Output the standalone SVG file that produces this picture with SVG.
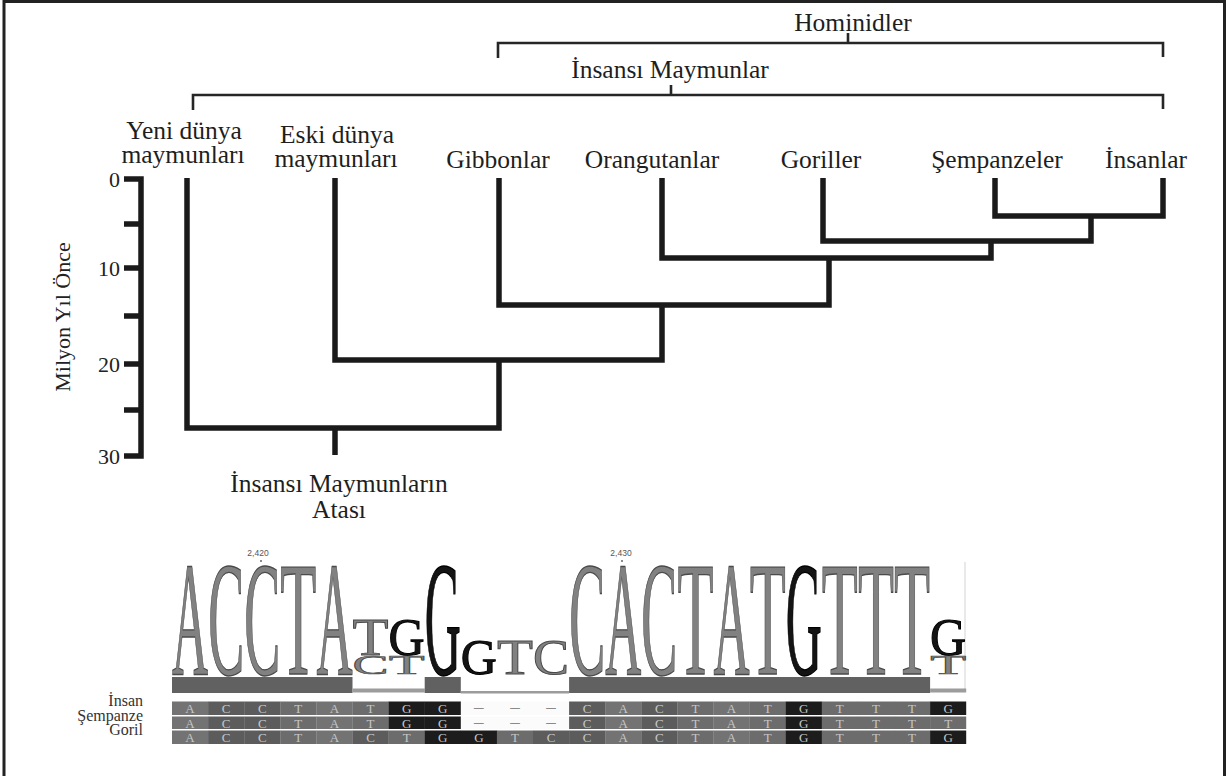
<svg xmlns="http://www.w3.org/2000/svg" width="1226" height="776" viewBox="0 0 1226 776">
<style>
.lbl{font-family:"Liberation Serif","Times New Roman",serif;font-size:25.5px;fill:#1e1e1e;text-anchor:middle}
.ax{font-family:"Liberation Serif","Times New Roman",serif;font-size:22px;fill:#222;text-anchor:end}
.tree{fill:none;stroke:#1a1a1a;stroke-width:5.5;stroke-linejoin:miter;stroke-linecap:butt}
.brk{fill:none;stroke:#262626;stroke-width:2.6;stroke-linecap:butt}
.frame{fill:none;stroke:#222;stroke-width:3}
.lg{font-family:"Liberation Serif","Times New Roman",serif;font-size:100px;text-anchor:middle;fill:#818181;stroke:#4a4a4a;stroke-width:1;vector-effect:non-scaling-stroke}
.lg.k{fill:#141414;stroke:#000}
.bar{fill:#616161}
.thin{fill:#9c9c9c}
.cA{fill:#737373}.cC{fill:#5c5c5c}.cT{fill:#6c6c6c}.cG{fill:#1c1c1c}.cN{fill:#fbfbfb}
.al{font-family:"Liberation Serif","Times New Roman",serif;font-size:13px;fill:#c6c6c6;text-anchor:middle}
.dash{font-size:19px;fill:#8a8a8a}
.rl{font-family:"Liberation Serif","Times New Roman",serif;font-size:16px;fill:#333;text-anchor:end}
.num{font-family:"Liberation Sans",Arial,sans-serif;font-size:8.5px;fill:#555;text-anchor:middle}
</style>
<rect x="0" y="0" width="1226" height="776" fill="#ffffff"/>
<path class="frame" d="M4,776 V1.5 H1224.5 V776"/>

<g id="clade-hominidler">
<path class="brk" d="M498,58 V43 H1163 V57 M848,33 V43"/>
<text class="lbl" x="853" y="31">Hominidler</text>
</g>
<g id="clade-insansi">
<path class="brk" d="M193,110 V95 H1163 V109 M671,85 V95"/>
<text class="lbl" x="670" y="78">İnsansı Maymunlar</text>
</g>

<g id="taxon-yeni"><text class="lbl" x="184" y="139">Yeni dünya</text><text class="lbl" x="183" y="163">maymunları</text></g>
<g id="taxon-eski"><text class="lbl" x="337" y="143">Eski dünya</text><text class="lbl" x="336" y="167">maymunları</text></g>
<g id="taxon-gibbon"><text class="lbl" x="498" y="168">Gibbonlar</text></g>
<g id="taxon-orangutan"><text class="lbl" x="652" y="168">Orangutanlar</text></g>
<g id="taxon-goril"><text class="lbl" x="821" y="168">Goriller</text></g>
<g id="taxon-sempanze"><text class="lbl" x="997" y="168">Şempanzeler</text></g>
<g id="taxon-insan"><text class="lbl" x="1146" y="168">İnsanlar</text></g>
<g id="root-ancestor"><text class="lbl" x="339" y="492">İnsansı Maymunların</text><text class="lbl" x="339" y="518">Atası</text></g>

<g id="axis">
<path class="tree" d="M124,179 H141 V456 H124 M124,224 H141 M124,268 H141 M124,316 H141 M124,364 H141 M124,410 H141"/>
<text class="ax" x="120" y="187">0</text>
<text class="ax" x="120" y="276">10</text>
<text class="ax" x="120" y="372">20</text>
<text class="ax" x="120" y="464">30</text>
<text class="ax" style="text-anchor:middle" transform="translate(70,317) rotate(-90)">Milyon Yıl Önce</text>
</g>

<g id="connectors">
<path class="tree" d="M995,178 V216 H1163 V178"/>
<path class="tree" d="M823,178 V241 H1091 V216"/>
<path class="tree" d="M662,178 V258 H991 V241"/>
<path class="tree" d="M499,178 V305 H829 V258"/>
<path class="tree" d="M335,178 V360 H662 V305"/>
<path class="tree" d="M187,178 V428 H499 V360"/>
<path class="tree" d="M335,428 V455"/>
</g>

<g id="sequence-logo">
<text class="num" x="258" y="556">2,420</text>
<circle cx="261" cy="561" r="1" fill="#666"/>
<text class="num" x="621" y="556">2,430</text>
<circle cx="622" cy="561" r="1" fill="#666"/>
<line x1="965" y1="562" x2="965" y2="690" stroke="#e2e2e2" stroke-width="1.5"/>
<text class="lg" transform="translate(190.05,674) scale(0.5,1.631)">A</text>
<text class="lg" transform="translate(226.15,674) scale(0.54,1.631)">C</text>
<text class="lg" transform="translate(262.25,674) scale(0.54,1.631)">C</text>
<text class="lg" transform="translate(298.35,674) scale(0.59,1.631)">T</text>
<text class="lg" transform="translate(334.45,674) scale(0.5,1.631)">A</text>
<text class="lg" transform="translate(370.55,655) scale(0.59,0.529)">T</text>
<text class="lg" transform="translate(370.55,674) scale(0.54,0.272)">C</text>
<text class="lg k" transform="translate(406.65,655) scale(0.5,0.529)">G</text>
<text class="lg" transform="translate(406.65,674) scale(0.59,0.272)">T</text>
<text class="lg k" transform="translate(442.75,674) scale(0.5,1.631)">G</text>
<text class="lg k" transform="translate(478.85,674) scale(0.5,0.514)">G</text>
<text class="lg" transform="translate(514.95,674) scale(0.59,0.514)">T</text>
<text class="lg" transform="translate(551.05,674) scale(0.54,0.514)">C</text>
<text class="lg" transform="translate(587.15,674) scale(0.54,1.631)">C</text>
<text class="lg" transform="translate(623.25,674) scale(0.5,1.631)">A</text>
<text class="lg" transform="translate(659.35,674) scale(0.54,1.631)">C</text>
<text class="lg" transform="translate(695.45,674) scale(0.59,1.631)">T</text>
<text class="lg" transform="translate(731.55,674) scale(0.5,1.631)">A</text>
<text class="lg" transform="translate(767.65,674) scale(0.59,1.631)">T</text>
<text class="lg k" transform="translate(803.75,674) scale(0.5,1.631)">G</text>
<text class="lg" transform="translate(839.85,674) scale(0.59,1.631)">T</text>
<text class="lg" transform="translate(875.95,674) scale(0.59,1.631)">T</text>
<text class="lg" transform="translate(912.05,674) scale(0.59,1.631)">T</text>
<text class="lg k" transform="translate(948.15,655) scale(0.5,0.529)">G</text>
<text class="lg" transform="translate(948.15,674) scale(0.59,0.272)">T</text>
<rect class="bar" x="172" y="677" width="180.5" height="16"/>
<rect class="thin" x="352.5" y="688.5" width="72.2" height="4"/>
<rect class="bar" x="424.7" y="677" width="36.1" height="16"/>
<rect class="thin" x="460.8" y="691" width="108.3" height="2.5"/>
<rect class="bar" x="569.1" y="677" width="361" height="16"/>
<rect class="thin" x="930.1" y="688.5" width="36.1" height="4"/>
</g>

<g id="row-labels">
<text class="rl" x="143" y="706">İnsan</text>
<text class="rl" x="143" y="720.5">Şempanze</text>
<text class="rl" x="143" y="735">Goril</text>
</g>

<g id="alignment">
<rect class="cA" x="172" y="701.5" width="36.3" height="13.5"/>
<rect class="cC" x="208.1" y="701.5" width="36.3" height="13.5"/>
<rect class="cC" x="244.2" y="701.5" width="36.3" height="13.5"/>
<rect class="cT" x="280.3" y="701.5" width="36.3" height="13.5"/>
<rect class="cA" x="316.4" y="701.5" width="36.3" height="13.5"/>
<rect class="cT" x="352.5" y="701.5" width="36.3" height="13.5"/>
<rect class="cG" x="388.6" y="701.5" width="36.3" height="13.5"/>
<rect class="cG" x="424.7" y="701.5" width="36.3" height="13.5"/>
<rect class="cN" x="460.8" y="701.5" width="36.3" height="13.5"/>
<rect class="cN" x="496.9" y="701.5" width="36.3" height="13.5"/>
<rect class="cN" x="533" y="701.5" width="36.3" height="13.5"/>
<rect class="cC" x="569.1" y="701.5" width="36.3" height="13.5"/>
<rect class="cA" x="605.2" y="701.5" width="36.3" height="13.5"/>
<rect class="cC" x="641.3" y="701.5" width="36.3" height="13.5"/>
<rect class="cT" x="677.4" y="701.5" width="36.3" height="13.5"/>
<rect class="cA" x="713.5" y="701.5" width="36.3" height="13.5"/>
<rect class="cT" x="749.6" y="701.5" width="36.3" height="13.5"/>
<rect class="cG" x="785.7" y="701.5" width="36.3" height="13.5"/>
<rect class="cT" x="821.8" y="701.5" width="36.3" height="13.5"/>
<rect class="cT" x="857.9" y="701.5" width="36.3" height="13.5"/>
<rect class="cT" x="894" y="701.5" width="36.3" height="13.5"/>
<rect class="cG" x="930.1" y="701.5" width="36.1" height="13.5"/>
<rect class="cA" x="172" y="716.5" width="36.3" height="12.5"/>
<rect class="cC" x="208.1" y="716.5" width="36.3" height="12.5"/>
<rect class="cC" x="244.2" y="716.5" width="36.3" height="12.5"/>
<rect class="cT" x="280.3" y="716.5" width="36.3" height="12.5"/>
<rect class="cA" x="316.4" y="716.5" width="36.3" height="12.5"/>
<rect class="cT" x="352.5" y="716.5" width="36.3" height="12.5"/>
<rect class="cG" x="388.6" y="716.5" width="36.3" height="12.5"/>
<rect class="cG" x="424.7" y="716.5" width="36.3" height="12.5"/>
<rect class="cN" x="460.8" y="716.5" width="36.3" height="12.5"/>
<rect class="cN" x="496.9" y="716.5" width="36.3" height="12.5"/>
<rect class="cN" x="533" y="716.5" width="36.3" height="12.5"/>
<rect class="cC" x="569.1" y="716.5" width="36.3" height="12.5"/>
<rect class="cA" x="605.2" y="716.5" width="36.3" height="12.5"/>
<rect class="cC" x="641.3" y="716.5" width="36.3" height="12.5"/>
<rect class="cT" x="677.4" y="716.5" width="36.3" height="12.5"/>
<rect class="cA" x="713.5" y="716.5" width="36.3" height="12.5"/>
<rect class="cT" x="749.6" y="716.5" width="36.3" height="12.5"/>
<rect class="cG" x="785.7" y="716.5" width="36.3" height="12.5"/>
<rect class="cT" x="821.8" y="716.5" width="36.3" height="12.5"/>
<rect class="cT" x="857.9" y="716.5" width="36.3" height="12.5"/>
<rect class="cT" x="894" y="716.5" width="36.3" height="12.5"/>
<rect class="cT" x="930.1" y="716.5" width="36.1" height="12.5"/>
<rect class="cA" x="172" y="730.5" width="36.3" height="13.5"/>
<rect class="cC" x="208.1" y="730.5" width="36.3" height="13.5"/>
<rect class="cC" x="244.2" y="730.5" width="36.3" height="13.5"/>
<rect class="cT" x="280.3" y="730.5" width="36.3" height="13.5"/>
<rect class="cA" x="316.4" y="730.5" width="36.3" height="13.5"/>
<rect class="cC" x="352.5" y="730.5" width="36.3" height="13.5"/>
<rect class="cT" x="388.6" y="730.5" width="36.3" height="13.5"/>
<rect class="cG" x="424.7" y="730.5" width="36.3" height="13.5"/>
<rect class="cG" x="460.8" y="730.5" width="36.3" height="13.5"/>
<rect class="cT" x="496.9" y="730.5" width="36.3" height="13.5"/>
<rect class="cC" x="533" y="730.5" width="36.3" height="13.5"/>
<rect class="cC" x="569.1" y="730.5" width="36.3" height="13.5"/>
<rect class="cA" x="605.2" y="730.5" width="36.3" height="13.5"/>
<rect class="cC" x="641.3" y="730.5" width="36.3" height="13.5"/>
<rect class="cT" x="677.4" y="730.5" width="36.3" height="13.5"/>
<rect class="cA" x="713.5" y="730.5" width="36.3" height="13.5"/>
<rect class="cT" x="749.6" y="730.5" width="36.3" height="13.5"/>
<rect class="cG" x="785.7" y="730.5" width="36.3" height="13.5"/>
<rect class="cT" x="821.8" y="730.5" width="36.3" height="13.5"/>
<rect class="cT" x="857.9" y="730.5" width="36.3" height="13.5"/>
<rect class="cT" x="894" y="730.5" width="36.3" height="13.5"/>
<rect class="cG" x="930.1" y="730.5" width="36.1" height="13.5"/>

<g class="al">
<text x="190.05" y="713">A</text><text x="226.15" y="713">C</text><text x="262.25" y="713">C</text><text x="298.35" y="713">T</text><text x="334.45" y="713">A</text><text x="370.55" y="713">T</text><text x="406.65" y="713">G</text><text x="442.75" y="713">G</text><text class="dash" x="478.85" y="713">–</text><text class="dash" x="514.95" y="713">–</text><text class="dash" x="551.05" y="713">–</text><text x="587.15" y="713">C</text><text x="623.25" y="713">A</text><text x="659.35" y="713">C</text><text x="695.45" y="713">T</text><text x="731.55" y="713">A</text><text x="767.65" y="713">T</text><text x="803.75" y="713">G</text><text x="839.85" y="713">T</text><text x="875.95" y="713">T</text><text x="912.05" y="713">T</text><text x="948.15" y="713">G</text>
<text x="190.05" y="727.5">A</text><text x="226.15" y="727.5">C</text><text x="262.25" y="727.5">C</text><text x="298.35" y="727.5">T</text><text x="334.45" y="727.5">A</text><text x="370.55" y="727.5">T</text><text x="406.65" y="727.5">G</text><text x="442.75" y="727.5">G</text><text class="dash" x="478.85" y="727.5">–</text><text class="dash" x="514.95" y="727.5">–</text><text class="dash" x="551.05" y="727.5">–</text><text x="587.15" y="727.5">C</text><text x="623.25" y="727.5">A</text><text x="659.35" y="727.5">C</text><text x="695.45" y="727.5">T</text><text x="731.55" y="727.5">A</text><text x="767.65" y="727.5">T</text><text x="803.75" y="727.5">G</text><text x="839.85" y="727.5">T</text><text x="875.95" y="727.5">T</text><text x="912.05" y="727.5">T</text><text x="948.15" y="727.5">T</text>
<text x="190.05" y="742">A</text><text x="226.15" y="742">C</text><text x="262.25" y="742">C</text><text x="298.35" y="742">T</text><text x="334.45" y="742">A</text><text x="370.55" y="742">C</text><text x="406.65" y="742">T</text><text x="442.75" y="742">G</text><text x="478.85" y="742">G</text><text x="514.95" y="742">T</text><text x="551.05" y="742">C</text><text x="587.15" y="742">C</text><text x="623.25" y="742">A</text><text x="659.35" y="742">C</text><text x="695.45" y="742">T</text><text x="731.55" y="742">A</text><text x="767.65" y="742">T</text><text x="803.75" y="742">G</text><text x="839.85" y="742">T</text><text x="875.95" y="742">T</text><text x="912.05" y="742">T</text><text x="948.15" y="742">G</text>
</g>
</g>
</svg>
